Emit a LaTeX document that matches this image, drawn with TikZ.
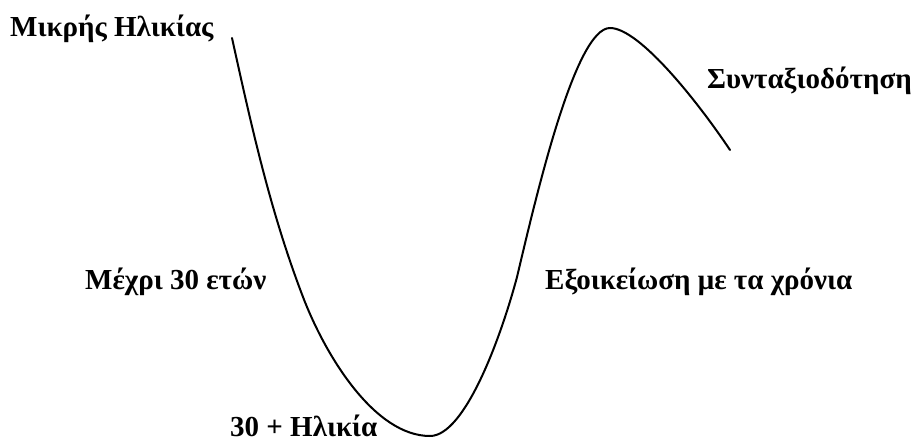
\documentclass[tikz,border=0pt]{standalone}
\usepackage{fontspec}
\setmainfont{Liberation Serif}
\begin{document}
\begin{tikzpicture}[x=1pt,y=-1pt,
  lbl/.style={anchor=base west,inner sep=0pt,font=\fontsize{29}{34}\selectfont\bfseries},
  curve/.style={line width=2pt,line cap=round,line join=round}]
\useasboundingbox (0,0) rectangle (915,443);
\node[lbl] (young) at (10,37) {Μικρής Ηλικίας};
\node[lbl] (retire) at (707,89) {Συνταξιοδότηση};
\node[lbl] (upto) at (85,290) {Μέχρι 30 ετών};
\node[lbl] (habit) at (545,290) {Εξοικείωση με τα χρόνια};
\node[lbl,text depth=0pt] (thirty) at (230,436) {30 + Ηλικία};
\coordinate (s) at (232,38);
\coordinate (a) at (303,297);
\coordinate (b) at (430,436);
\coordinate (c) at (517,277);
\coordinate (p) at (610,28);
\coordinate (e) at (730,150);
\draw[curve] (s) .. controls (251,124) and (270,211) .. (a)
  .. controls (326,357) and (375,436) .. (b)
  .. controls (465,436) and (501,337) .. (c)
  .. controls (536,197) and (575,28) .. (p)
  .. controls (640,28) and (700,105) .. (e);
\end{tikzpicture}
\end{document}
